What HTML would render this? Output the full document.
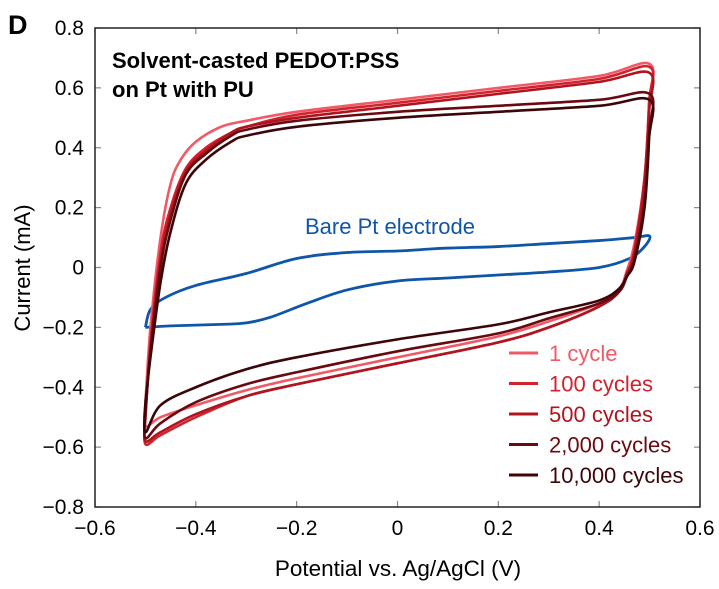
<!DOCTYPE html>
<html><head><meta charset="utf-8"><style>
body{margin:0;background:#fff}
svg{display:block;font-family:"Liberation Sans",sans-serif}
</style></head><body>
<svg id="c" width="719" height="589" viewBox="0 0 719 589">
<text x="8" y="34" font-size="27" font-weight="bold">D</text>
<g id="plot"></g>
</svg>
<script>
const xTicks=[-0.6,-0.4,-0.2,0,0.2,0.4,0.6];
const xTickLabels=["−0.6","−0.4","−0.2","0","0.2","0.4","0.6"];
const yTicks=[0.8,0.6,0.4,0.2,0,-0.2,-0.4,-0.6,-0.8];
const yTickLabels=["0.8","0.6","0.4","0.2","0","−0.2","−0.4","−0.6","−0.8"];
const seriesNames=["1 cycle","100 cycles","500 cycles","2,000 cycles","10,000 cycles"];
const seriesColors=["#f05a66","#d2222e","#b0141e","#6a0a10","#3c0609"];
// potential (V) and current (mA) per cycle
const v1=[-0.5,-0.49,-0.47,-0.45,-0.43,-0.4,-0.35,-0.3,-0.2,0,0.2,0.4,0.5,0.499,0.49,0.47,0.455,0.44,0.4,0.3,0.2,0,-0.2,-0.3,-0.4,-0.47,-0.5,-0.5];
const i1=[-0.45,-0.2,0.1,0.28,0.36,0.42,0.47,0.49,0.52,0.56,0.60,0.64,0.68,0.55,0.3,0.08,-0.01,-0.07,-0.12,-0.18,-0.23,-0.30,-0.37,-0.41,-0.46,-0.50,-0.53,-0.45];
const v100=[-0.5,-0.49,-0.47,-0.45,-0.42,-0.38,-0.33,-0.3,-0.2,0,0.2,0.4,0.5,0.499,0.49,0.47,0.455,0.44,0.4,0.3,0.2,0,-0.2,-0.3,-0.4,-0.47,-0.5,-0.5];
const i100=[-0.5,-0.25,0.05,0.2,0.33,0.40,0.45,0.47,0.51,0.55,0.59,0.63,0.67,0.55,0.3,0.06,-0.02,-0.08,-0.13,-0.2,-0.25,-0.32,-0.39,-0.43,-0.50,-0.56,-0.59,-0.5];
const v500=[-0.5,-0.49,-0.47,-0.45,-0.42,-0.38,-0.33,-0.3,-0.2,0,0.2,0.4,0.5,0.499,0.49,0.47,0.455,0.44,0.4,0.3,0.2,0,-0.2,-0.3,-0.4,-0.47,-0.5,-0.5];
const i500=[-0.5,-0.27,0.02,0.18,0.32,0.39,0.45,0.47,0.5,0.54,0.58,0.62,0.65,0.52,0.28,0.05,-0.02,-0.08,-0.13,-0.2,-0.25,-0.32,-0.39,-0.43,-0.49,-0.55,-0.58,-0.5];
const v2k=[-0.5,-0.49,-0.47,-0.45,-0.42,-0.38,-0.33,-0.3,-0.2,0,0.2,0.4,0.5,0.499,0.49,0.47,0.455,0.44,0.4,0.3,0.2,0,-0.2,-0.3,-0.4,-0.47,-0.5,-0.5];
const i2k=[-0.48,-0.28,0.0,0.16,0.31,0.38,0.44,0.46,0.49,0.52,0.54,0.56,0.58,0.45,0.22,0.03,-0.03,-0.08,-0.12,-0.17,-0.22,-0.28,-0.35,-0.39,-0.45,-0.52,-0.57,-0.48];
const v10k=[-0.5,-0.49,-0.47,-0.45,-0.42,-0.38,-0.33,-0.3,-0.2,0,0.2,0.4,0.5,0.499,0.49,0.47,0.455,0.44,0.4,0.3,0.2,0,-0.2,-0.3,-0.4,-0.47,-0.5,-0.5];
const i10k=[-0.45,-0.3,-0.05,0.12,0.28,0.36,0.42,0.44,0.47,0.5,0.52,0.54,0.56,0.43,0.2,0.02,-0.03,-0.07,-0.11,-0.15,-0.19,-0.24,-0.30,-0.34,-0.40,-0.46,-0.55,-0.45];
const vPt=[-0.5,-0.45,-0.35,-0.3,-0.25,-0.18,-0.1,0,0.1,0.2,0.3,0.4,0.46,0.49,0.5,0.47,0.4,0.3,0.2,0.1,0.05,0,-0.1,-0.2,-0.3,-0.4,-0.46,-0.49,-0.5];
const iPt=[-0.2,-0.195,-0.19,-0.185,-0.165,-0.12,-0.075,-0.045,-0.035,-0.025,-0.015,0.0,0.03,0.07,0.105,0.1,0.09,0.08,0.07,0.065,0.06,0.055,0.05,0.03,-0.02,-0.06,-0.1,-0.14,-0.2];
const V=[v1,v100,v500,v2k,v10k], I=[i1,i100,i500,i2k,i10k];

const L=95,R=700,T=28,B=507;
const X=v=>L+(v+0.6)/1.2*(R-L);
const Y=c=>T+(0.8-c)/1.6*(B-T);
const NS='http://www.w3.org/2000/svg';
const g=document.getElementById('plot');
function mk(t,a,p){const e=document.createElementNS(NS,t);for(const k in a)e.setAttribute(k,a[k]);(p||g).appendChild(e);return e;}
function path(vs,is){const p=vs.map((v,k)=>[X(v),Y(is[k])]);let d='M'+p[0][0]+','+p[0][1];
 for(let k=0;k<p.length-1;k++){const a=p[Math.max(k-1,0)],b=p[k],c=p[k+1],e=p[Math.min(k+2,p.length-1)];
 d+=` C${b[0]+(c[0]-a[0])/6},${b[1]+(c[1]-a[1])/6} ${c[0]-(e[0]-b[0])/6},${c[1]-(e[1]-b[1])/6} ${c[0]},${c[1]}`;}return d;}

xTicks.forEach((t,k)=>{
 const tb=mk('line',{x1:X(t),x2:X(t),y1:B,y2:B-6,stroke:'#888','stroke-width':1.2});
 
 mk('line',{x1:X(t),x2:X(t),y1:T,y2:T+6,stroke:'#888','stroke-width':1.2});
 const tx=mk('text',{x:X(t),y:B+28,'font-size':21,'text-anchor':'middle'});tx.textContent=xTickLabels[k];
 
});
yTicks.forEach((t,k)=>{
 mk('line',{x1:L,x2:L+6,y1:Y(t),y2:Y(t),stroke:'#888','stroke-width':1.2});
 mk('line',{x1:R,x2:R-6,y1:Y(t),y2:Y(t),stroke:'#888','stroke-width':1.2});
 const tx=mk('text',{x:L-11,y:Y(t)+7,'font-size':21,'text-anchor':'end'});tx.textContent=yTickLabels[k];
 
});
const bp=mk('path',{d:path(vPt,iPt),fill:'none',stroke:'#0f56a8','stroke-width':2.8,'stroke-linejoin':'round'});

for(let s=0;s<5;s++){
 const p=mk('path',{d:path(V[s],I[s]),fill:'none',stroke:seriesColors[s],'stroke-width':2.6,'stroke-linejoin':'round'});
 
 const ly=353+s*30.5;
 mk('line',{x1:509,x2:538,y1:ly,y2:ly,stroke:seriesColors[s],'stroke-width':3});
 const t=mk('text',{x:549,y:ly+8,'font-size':22,fill:seriesColors[s]});t.textContent=seriesNames[s];
 
}
const fr=mk('rect',{x:L,y:T,width:R-L,height:B-T,fill:'none',stroke:'#222','stroke-width':1.5});

</script>
<svg style="position:absolute;left:0;top:0" width="719" height="589">
<text x="112" y="68" font-size="22" font-weight="bold" font-family="Liberation Sans,sans-serif">Solvent-casted PEDOT:PSS</text>
<text x="112" y="97" font-size="22" font-weight="bold" font-family="Liberation Sans,sans-serif">on Pt with PU</text>
<text x="305" y="234" font-size="22" fill="#0f56a8" font-family="Liberation Sans,sans-serif">Bare Pt electrode</text>
<text x="398" y="576" font-size="22.5" text-anchor="middle" font-family="Liberation Sans,sans-serif">Potential vs. Ag/AgCl (V)</text>
<text transform="translate(30,268) rotate(-90)" font-size="22" text-anchor="middle" font-family="Liberation Sans,sans-serif">Current (mA)</text>
</svg>
</body></html>
